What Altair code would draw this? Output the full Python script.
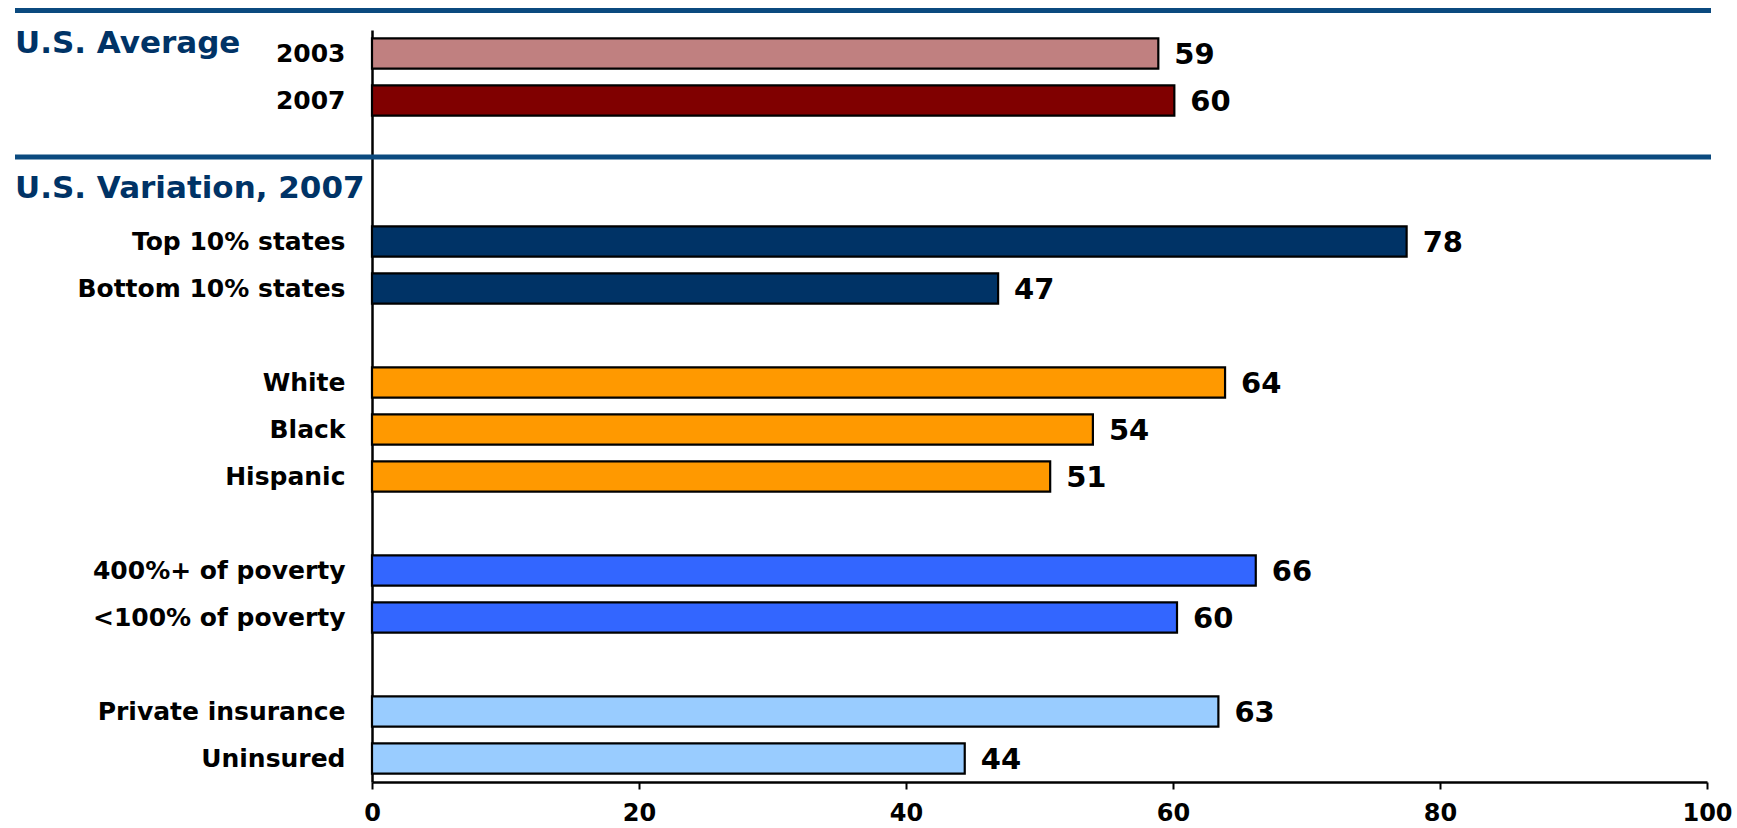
import altair as alt
import pandas as pd

# ---- data ----
categories = ["2003", "2007", " ", "  ", "Top 10% states", "Bottom 10% states", "   ",
              "White", "Black", "Hispanic", "    ",
              "400%+ of poverty", "<100% of poverty", "     ",
              "Private insurance", "Uninsured"]
bar_labels = ["2003", "2007", "Top 10% states", "Bottom 10% states",
              "White", "Black", "Hispanic",
              "400%+ of poverty", "<100% of poverty",
              "Private insurance", "Uninsured"]
bar_values = [58.9, 60.1, 77.5, 46.9, 63.9, 54.0, 50.8, 66.2, 60.3, 63.4, 44.4]
value_text = ["59", "60", "78", "47", "64", "54", "51", "66", "60", "63", "44"]
groups = ["avg2003", "avg2007", "states", "states", "race", "race", "race",
          "poverty", "poverty", "insurance", "insurance"]
group_names = ["avg2003", "avg2007", "states", "race", "poverty", "insurance"]
group_colors = ["#C08080", "#800000", "#003366", "#FF9900", "#3366FF", "#99CCFF"]
x_ticks = [0, 20, 40, 60, 80, 100]
headers = ["U.S. Average", "U.S. Variation, 2007"]

df = pd.DataFrame({"label": bar_labels, "value": bar_values,
                   "text": value_text, "group": groups})

FONT = "DejaVu Sans"

y_enc = alt.Y("label:N", sort=categories,
              scale=alt.Scale(domain=categories, paddingInner=0.36, paddingOuter=0.18),
              axis=alt.Axis(title=None, ticks=False, labelPadding=27, labelFont=FONT,
                            labelFontSize=25, labelFontWeight="bold", labelColor="black",
                            domainColor="black", domainWidth=2.5, labelLimit=400))
x_enc = alt.X("value:Q", scale=alt.Scale(domain=[0, 100], nice=False),
              axis=alt.Axis(title=None, values=x_ticks, grid=False, tickSize=7,
                            tickWidth=2, tickColor="black", domainColor="black",
                            domainWidth=2.5, labelPadding=12, labelFont=FONT,
                            labelFontSize=24, labelFontWeight="bold",
                            labelColor="black", labelFlush=False))

bars = alt.Chart(df).mark_bar(stroke="black", strokeWidth=2.2).encode(
    x=x_enc, y=y_enc,
    color=alt.Color("group:N", scale=alt.Scale(domain=group_names, range=group_colors),
                    legend=None),
)

labels = alt.Chart(df).mark_text(align="left", baseline="middle", dx=16, dy=1,
                                 font=FONT, fontSize=29, fontWeight="bold",
                                 color="black").encode(
    x="value:Q", y=alt.Y("label:N", sort=categories), text="text:N")

hdr1 = alt.Chart(pd.DataFrame({"t": [headers[0]]})).mark_text(
    align="left", baseline="alphabetic", font=FONT, fontSize=31, fontWeight="bold",
    color="#003366").encode(x=alt.value(-357), y=alt.value(23), text="t:N")
hdr2 = alt.Chart(pd.DataFrame({"t": [headers[1]]})).mark_text(
    align="left", baseline="alphabetic", font=FONT, fontSize=31, fontWeight="bold",
    color="#003366").encode(x=alt.value(-357), y=alt.value(168), text="t:N")

line1 = alt.Chart(pd.DataFrame({"a": [0]})).mark_rule(
    color="#0B4A7F", strokeWidth=5).encode(
    x=alt.value(-357), x2=alt.value(1339), y=alt.value(-19.5))
line2 = alt.Chart(pd.DataFrame({"a": [0]})).mark_rule(
    color="#0B4A7F", strokeWidth=5).encode(
    x=alt.value(-357), x2=alt.value(1339), y=alt.value(127))

chart = alt.layer(bars, labels, hdr1, hdr2, line1, line2).properties(
    width=1335, height=752,
    autosize=alt.AutoSizeParams(type="none"),
    padding={"left": 372, "top": 30, "right": 30, "bottom": 46},
    background="white",
).configure_view(stroke="transparent", strokeWidth=0)

chart.save("out.html", embed_options={"renderer": "svg", "actions": False})
